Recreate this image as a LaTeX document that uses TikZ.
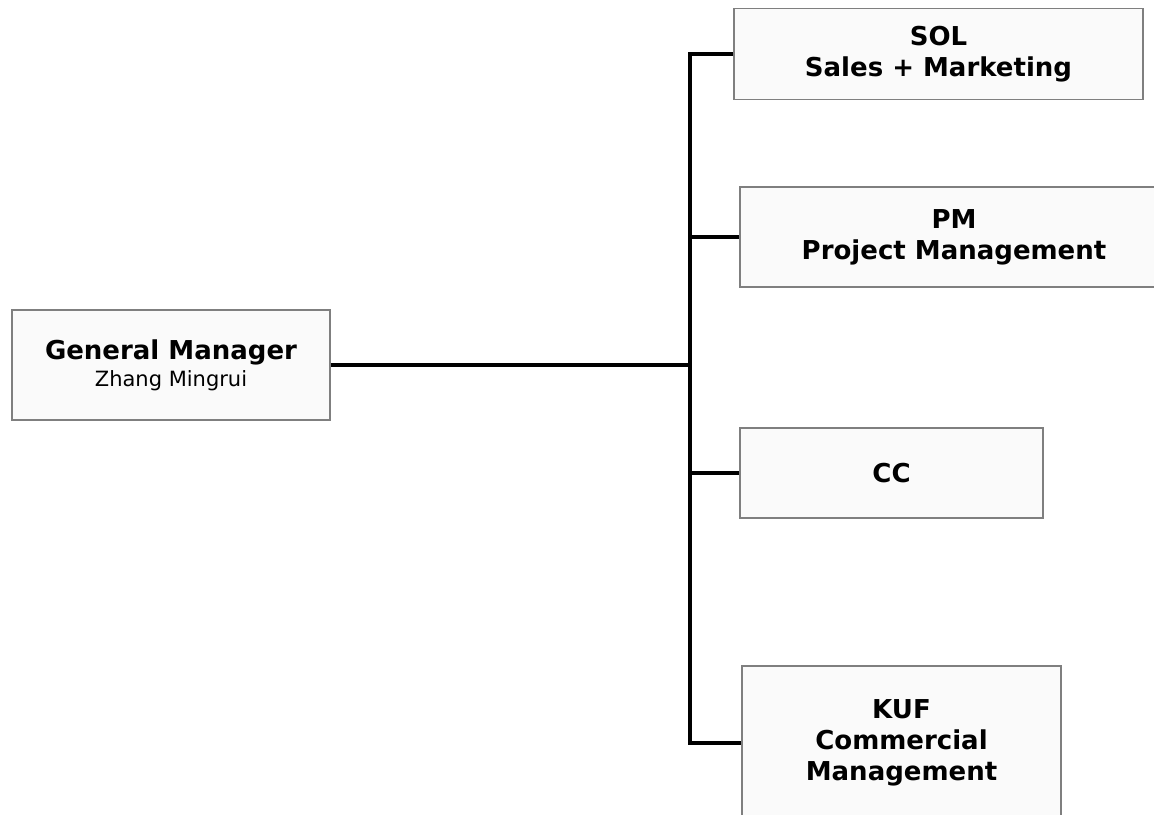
\documentclass[tikz,border=0pt]{standalone}
\usepackage{fontspec}
\setmainfont{DejaVu Sans}
\definecolor{boxfill}{HTML}{FAFAFA}
\definecolor{boxline}{HTML}{7F7F7F}
\tikzset{
  orgbox/.style={draw=boxline, line width=1.8pt, fill=boxfill, rectangle, inner sep=0pt, align=center, text=black},
  bigtxt/.style={font=\fontsize{26}{31}\selectfont\bfseries},
  link/.style={draw=black, line width=3.6pt, line join=miter}
}
\begin{document}
\begin{tikzpicture}[x=1pt, y=-1pt]
\useasboundingbox (0,0) rectangle (1154,814);
\clip (0,0) rectangle (1154,814);
\node[orgbox, font=\fontsize{21}{25}\selectfont, minimum width=318pt, minimum height=110pt] (GM) at (171,365)
  {{\fontsize{26}{25}\selectfont\bfseries General Manager}\\[2pt]Zhang Mingrui};
\node[orgbox, bigtxt, minimum width=409pt, minimum height=91pt] (SOL) at (938.5,54) {SOL\\Sales + Marketing};
\node[orgbox, bigtxt, minimum width=428pt, minimum height=100pt] (PM) at (954,237) {PM\\Project Management};
\node[orgbox, bigtxt, minimum width=303pt, minimum height=90pt] (CC) at (891.5,473) {CC};
\node[orgbox, bigtxt, minimum width=319pt, minimum height=154pt] (KUF) at (901.5,743) {KUF\\Commercial\\Management};
\coordinate (bus) at (690,365);
\draw[link] (GM.east) -- (GM.east -| bus);
\draw[link] (SOL.west) -- (SOL.west -| bus) -- (KUF.west -| bus) -- (KUF.west);
\draw[link] (PM.west) -- (PM.west -| bus);
\draw[link] (CC.west) -- (CC.west -| bus);
\end{tikzpicture}
\end{document}
